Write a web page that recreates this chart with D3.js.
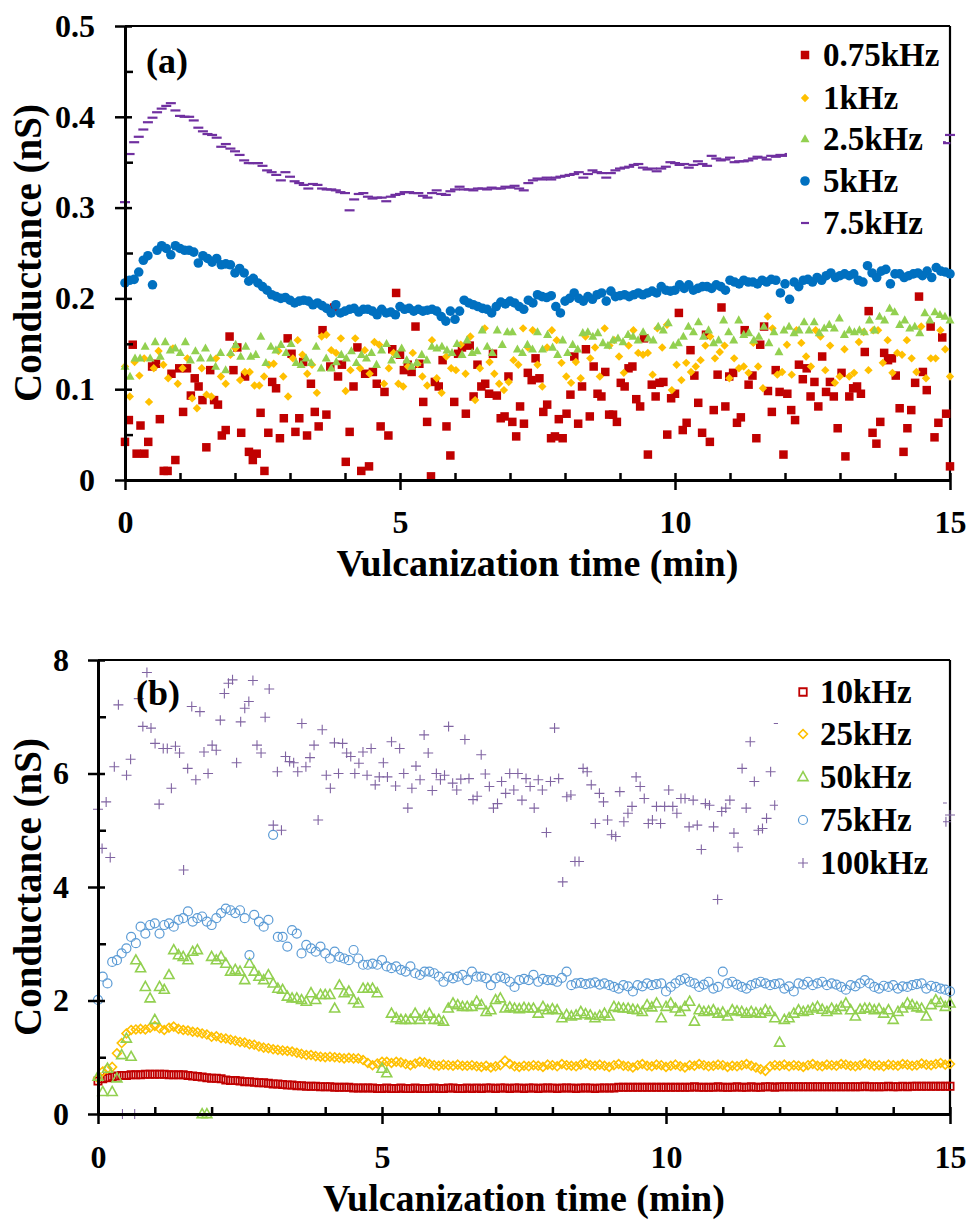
<!DOCTYPE html>
<html>
<head>
<meta charset="utf-8">
<script src="https://cdn.jsdelivr.net/npm/d3@7"></script>
<style>
  body { margin: 0; background: #fff; }
  svg text { font-family: "Liberation Serif", "Times New Roman", serif; font-weight: bold; fill: #000; }
</style>
</head>
<body>
<svg id="chart" width="971" height="1222"></svg>
<script>
// ---------------- Panel (a): low-frequency conductance (nS) ----------------
const seriesA = ["0.75kHz", "1kHz", "2.5kHz", "5kHz", "7.5kHz"];

const g075 = [
  .042,.066,.149,.029,.060,.029,.042,.125,.128,.067,
  .010,.010,.117,.022,.123,.075,.123,.093,.112,.103,
  .088,.036,.121,.088,.083,.049,.055,.158,.121,.146,
  .052,.114,.031,.022,.029,.074,.010,.052,.108,.101,
  .046,.068,.156,.139,.053,.068,.130,.049,.106,.075,
  .059,.165,.072,.125,.190,.114,.127,.020,.053,.103,
  .146,.010,.117,.015,.119,.106,.059,.097,.049,.144,
  .206,.138,.121,.127,.119,.169,.128,.086,.064,.004,
  .108,.103,.132,.059,.027,.086,.139,.146,.073,.148,
  .092,.127,.103,.106,.095,.139,.093,.068,
  .070,.114,.064,.048,.081,.062,.118,.110,.134,.112,
  .075,.083,.046,.048,.067,.046,.073,.094,.136,.062,
  .103,.144,.070,.125,.095,.092,.119,.072,.072,.064,
  .107,.103,.123,.125,.089,.081,.156,.028,.105,.092,
  .107,.108,.050,.090,.095,.184,.055,.063,.143,.115,
  .085,.052,.160,.042,.077,.116,.190,.081,.114,.118,
  .063,.069,.165,.105,.115,.046,.149,.169,.098,.075,
  .121,.097,.028,.095,.077,.066,.127,.111,.123,.092,
  .108,.081,.136,.097,.108,.092,.057,.118,.026,.092,
  .101,.103,.095,.141,.186,.052,.040,.064,.140,.132,
  .134,.115,.079,.031,.057,.077,.107,.202,.119,.099,
  .169,.047,.063,.157,.073,.015
];

const g1k = [
  .125,.092,.130,.115,.134,.086,.123,.142,.127,.112,
  .145,.106,.123,.134,.090,.079,.123,.094,.092,.134,
  .114,.106,.138,.145,.110,.119,.119,.104,.104,.114,
  .127,.128,.142,.114,.092,.134,.154,.138,.117,.127,
  .096,.158,.160,.143,.140,.156,.098,.121,.156,.123,
  .143,.117,.152,.149,.106,.123,.140,.106,.103,.125,
  .140,.128,.114,.104,.154,.112,.096,.136,.123,.121,
  .149,.117,.158,.088,.123,.167,.130,.117,.106,.099,
  .108,
  .132,.127,.167,.146,.165,.127,.103,.146,.165,.154,
  .129,.114,.107,.130,.112,.158,.134,.146,.114,.167,
  .148,.154,.136,.118,.148,.165,.140,.138,.140,.116,
  .167,.146,.171,.099,.127,.110,.129,.119,.125,.132,
  .148,.158,.134,.141,.148,.112,.134,.123,.125,.118,
  .151,.125,.101,.180,.167,.116,.119,.149,.116,.165,
  .151,.136,.125,.165,.158,.121,.148,.107,.114,.144,
  .114,.118,.152,.163,.121,.165,.165,.129,.154,.118,
  .140,.138,.154,.134,.119,.169,.112,.134,.134,.165,
  .144,.114
];

const g2k5 = [
  .125,.114,.134,.134,.147,.134,.152,.136,.152,.143,
  .145,.140,.152,.132,.142,.134,.145,.134,.125,.140,
  .121,.140,.149,.136,.147,.136,.138,.158,.129,.147,
  .143,.149,.140,.150,.129,.127,.134,.129,.147,.123,
  .134,.123,.130,.138,.134,.142,.129,.138,.134,.140,
  .127,.143,.150,.132,.138,.145,.132,.125,.129,.138,
  .132,.147,.145,.147,.143,.140,.150,.138,.154,.140,
  .142,.165,.147,.140,.165,.149,.163,
  .163,.144,.140,.149,.144,.163,.144,.160,.146,.138,
  .154,.140,.149,.144,.162,.163,.158,.162,.151,.148,
  .154,.156,.152,.160,.158,.154,.163,.156,.154,.169,
  .165,.173,.148,.151,.158,.169,.163,.174,.158,.165,
  .151,.154,.176,.163,.154,.176,.160,.162,.154,.158,
  .169,.151,.163,.141,.165,.169,.162,.165,.174,.165,
  .174,.162,.167,.171,.167,.178,.160,.165,.163,.165,
  .163,.176,.165,.180,.176,.189,.185,.171,.176,.167,
  .169,.162,.184,.176,.185,.182,.180,.176
];

const g5k = [
  .217,.220,.221,.229,.242,.247,.215,.253,.258,.255,
  .248,.258,.255,.253,.253,.251,.239,.247,.244,.240,
  .244,.237,.238,.237,.228,.233,.228,.219,.222,.217,
  .213,.209,.204,.202,.200,.201,.198,.195,.197,.198,
  .197,.193,.195,.192,.189,.184,.193,.184,.186,.188,
  .189,.185,.188,.188,.186,.182,.188,.184,.185,.182,
  .191,.188,.189,.186,.188,.186,.187,.188,.186,.180,
  .175,.186,.177,.186,.198,.195,.193,.191,.189,.188,
  .184,.191,.196,.194,.197,.195,.191,.188,.198,.195,
  .204,.202,.201,.203,.191,.184,.197,.200,.206,.200,
  .197,.202,.199,.204,.206,.197,.208,.202,.203,.204,
  .202,.204,.206,.204,.206,.208,.206,.213,.209,.208,
  .209,.215,.211,.215,.209,.211,.213,.213,.211,.215,
  .213,.209,.220,.218,.216,.220,.218,.218,.216,.220,
  .218,.221,.220,.206,.216,.199,.218,.213,.220,.221,
  .218,.223,.220,.225,.228,.223,.225,.227,.225,.227,
  .220,.218,.236,.228,.223,.230,.232,.216,.227,.227,
  .223,.225,.227,.228,.225,.230,.223,.234,.230,.229,.227
];

const g7k5 = [
  .306,.359,.372,.378,.386,.394,.399,.405,.409,.412,
  .415,.407,.401,.400,.400,.396,.388,.384,.381,.380,
  .377,.367,.370,.365,.362,.358,.352,.349,.349,.349,
  .346,.341,.339,.336,.330,.339,.334,.329,.327,.325,
  .321,.326,.325,.321,.320,.320,.319,.317,.316,.297,
  .309,.315,.316,.312,.310,.311,.311,.307,.312,.314,
  .315,.317,.317,.316,.316,.313,.311,.316,.319,.315,
  .314,.318,.320,.323,.320,.320,.319,.321,.321,.320,
  .322,.321,.321,.323,.322,.324,.321,.319,.327,.330,
  .332,.331,.333,.331,.333,.334,.335,.336,.337,.339,
  .333,.337,.341,.339,.338,.333,.338,.341,.343,.344,
  .345,.347,.348,.344,.342,.343,.340,.343,.345,.350,
  .349,.347,.348,.344,.347,.351,.348,.346,.357,.354,
  .352,.353,.355,.350,.351,.351,.352,.354,.356,.355,
  .353,.357,.356,.358,.357,.359,.356,.360,.358,.361,
  .359,.362,.360,.363,.358,.364,.362,.365,.361,.366,
  .364,.367,.363,.368,.366,.365,.369,.367,.370,.366,
  .371,.369,.372,.368,.373,.371,.370,.374,.372,.371,.380
];

// ---------------- Panel (b): high-frequency conductance (nS) ----------------
const seriesB = ["10kHz", "25kHz", "50kHz", "75kHz", "100kHz"];

const g10k = [
  .58,.62,.64,.66,.67,.68,.68,.69,.69,.69,.70,.70,.70,.70,.70,.69,.69,.69,.69,.68,
  .67,.66,.65,.64,.63,.63,.62,.60,.59,.59,.58,.57,.57,.56,.55,.55,.54,.53,.53,.52,
  .51,.51,.50,.50,.49,.49,.49,.48,.48,.48,.47,.47,.47,.47,.46,.46,.46,.46,.46,.45,
  .45,.46,.45,.45,.46,.45,.45,.46,.45,.45,.45,.46,.45,.45,.46,.46,.45,.45,.46,.45,
  .46,.45,.46,.46,.45,.46,.46,.45,.46,.46,.45,.46,.46,.45,.46,.46,.46,.45,.46,.46,
  .46,.45,.46,.46,.46,.45,.46,.46,.46,.46,.47,.47,.47,.47,.47,.47,.47,.47,.47,.47,
  .47,.47,.47,.47,.47,.47,.48,.47,.47,.47,.47,.48,.47,.47,.47,.48,.47,.47,.48,.47,
  .47,.48,.48,.47,.48,.48,.48,.48,.48,.48,.48,.48,.48,.48,.48,.48,.48,.48,.48,.48,
  .48,.48,.49,.48,.48,.48,.48,.49,.48,.48,.49,.48,.49,.49,.49,.49,.49,.49,.49,.49,.49
];

const g25k = [
  .63,.75,.80,.83,1.07,1.25,1.42,1.48,1.49,1.50,
  1.49,1.52,1.55,1.51,1.48,1.52,1.54,1.50,1.48,1.47,
  1.45,1.44,1.42,1.40,1.36,1.37,1.34,1.33,1.31,1.29,
  1.27,1.26,1.23,1.22,1.19,1.17,1.16,1.14,1.13,1.12,
  1.11,1.10,1.08,1.06,1.04,1.04,1.02,1.01,1.00,1.01,
  1.00,.99,.98,.99,.98,.98,.95,.90,.86,.89,
  .92,.92,.90,.92,.91,.88,.86,.89,.92,.91,
  .88,.86,.85,.87,.86,.85,.87,.85,.85,.86,
  .84,.83,.85,.82,.84,.86,.94,.88,.84,.83,
  .85,.84,.86,.85,.83,.87,.86,.84,.88,.86,
  .85,.84,.87,.89,.86,.85,.87,.85,.83,.86,
  .88,.85,.84,.82,.86,.88,.85,.84,.87,.86,
  .83,.85,.87,.84,.82,.86,.85,.88,.86,.84,
  .85,.87,.86,.83,.85,.84,.86,.88,.85,.82,
  .79,.76,.84,.86,.85,.87,.84,.86,.85,.83,
  .86,.88,.85,.84,.87,.86,.85,.88,.87,.85,
  .84,.86,.89,.87,.85,.86,.84,.87,.86,.85,
  .88,.87,.85,.86,.89,.87,.86,.88,.90,.87,.88
];

const g50k = [
  .66,.39,.80,.39,.63,1.04,1.33,1.01,2.71,2.57,
  2.24,2.04,1.66,2.24,2.19,2.45,2.89,2.80,2.77,2.71,
  2.86,2.89,0,0,2.77,2.71,2.77,2.65,2.51,2.54,
  2.51,2.36,2.65,2.51,2.42,2.36,2.45,2.30,2.21,2.19,
  2.07,2.04,2.04,2.01,1.98,2.13,2.01,2.10,2.10,2.10,
  1.86,2.27,2.13,2.16,2.01,1.95,2.21,2.21,2.21,2.13,
  .80,.72,1.77,1.69,1.66,1.66,1.66,1.77,1.66,1.72,
  1.77,1.66,1.66,1.63,1.86,1.95,1.92,1.89,1.89,1.89,
  1.98,1.92,1.80,1.83,2.01,2.04,1.86,1.88,1.86,1.85,
  1.87,1.86,1.86,1.77,1.89,1.83,1.85,1.83,1.69,1.75,
  1.72,1.74,1.80,1.76,1.74,1.69,1.73,1.77,1.72,1.89,
  1.87,1.86,1.86,1.84,1.83,1.80,1.92,1.88,1.95,1.69,
  1.89,1.95,1.86,1.80,1.89,1.98,1.63,1.83,1.80,1.81,
  1.83,1.77,1.79,1.72,1.83,1.81,1.80,1.77,1.80,1.78,
  1.77,1.83,1.80,1.69,1.26,1.66,1.69,1.77,1.83,1.80,
  1.82,1.86,1.89,1.84,1.80,1.86,1.83,1.89,1.95,1.83,
  1.72,1.84,1.86,1.86,1.83,1.85,1.77,1.83,1.66,1.80,
  1.86,1.95,1.92,1.88,1.86,1.72,1.92,2.01,1.96,1.89,1.95
];

const g75k = [
  2.01,2.42,2.30,2.68,2.71,2.83,2.92,3.12,3.01,3.30,
  3.18,3.33,3.36,3.18,3.33,3.36,3.30,3.42,3.45,3.57,
  3.39,3.45,3.48,3.39,3.33,3.45,3.54,3.62,3.59,3.54,
  3.59,3.45,2.80,3.51,3.39,3.30,3.42,4.92,3.12,3.12,
  2.95,3.24,3.18,2.83,2.98,2.92,2.86,2.95,2.83,2.74,
  2.86,2.77,2.74,2.71,2.89,2.74,2.63,2.63,2.65,2.63,
  2.71,2.60,2.57,2.60,2.54,2.51,2.60,2.48,2.45,2.51,
  2.51,2.48,2.42,2.33,2.42,2.39,2.42,2.45,2.36,2.51,
  2.42,2.42,2.39,2.27,2.39,2.42,2.39,2.33,2.24,2.36,
  2.38,2.36,2.45,2.33,2.38,2.36,2.36,2.33,2.40,2.51,
  2.27,2.30,2.31,2.29,2.30,2.32,2.28,2.30,2.27,2.24,
  2.21,2.27,2.25,2.16,2.27,2.25,2.30,2.27,2.29,2.30,
  2.16,2.24,2.30,2.36,2.39,2.33,2.30,2.24,2.28,2.33,
  2.21,2.24,2.51,2.30,2.33,2.28,2.24,2.21,2.27,2.30,
  2.33,2.30,2.27,2.29,2.30,2.21,2.25,2.16,2.30,2.28,
  2.33,2.27,2.30,2.33,2.27,2.30,2.28,2.24,2.19,2.27,
  2.25,2.30,2.36,2.30,2.24,2.21,2.26,2.24,2.27,2.21,
  2.25,2.24,2.27,2.29,2.30,2.21,2.26,2.24,2.21,2.19,2.16
];

const g100k = [
  5.37,4.68,5.50,4.52,6.12,7.21,0,5.97,6.25,0,
  7.32,6.83,7.78,6.80,6.53,5.46,6.44,6.44,5.74,6.48,
  6.36,4.30,6.09,7.18,5.89,7.09,6.38,6.00,6.50,6.41,
  6.94,7.41,7.59,7.65,6.19,6.91,7.15,7.27,7.64,6.50,
  6.36,6.99,7.49,5.09,6.03,5.00,6.30,6.21,6.19,6.03,
  6.88,6.12,6.28,6.50,5.18,6.77,5.97,5.74,6.54,6.00,
  6.53,6.36,6.30,6.00,6.18,6.38,5.97,6.44,5.80,5.94,
  6.19,5.94,6.56,5.78,6.44,6.00,5.39,5.74,6.13,5.89,
  6.68,6.36,5.70,6.00,5.89,5.97,6.83,5.83,5.71,5.90,
  6.60,5.91,5.54,5.60,6.33,5.99,5.77,5.39,
  5.47,5.86,5.65,6.00,5.71,6.00,5.53,5.91,5.77,5.39,
  5.89,5.71,4.96,5.86,6.80,5.91,4.09,5.59,5.62,4.45,
  4.45,6.09,6.03,5.80,5.12,5.65,5.50,5.18,4.92,4.89,
  5.68,5.15,5.30,5.42,5.94,5.77,5.56,5.12,5.18,5.42,
  5.12,5.42,5.71,5.42,5.30,5.56,5.56,5.06,5.53,5.09,
  4.66,5.47,5.44,5.06,3.78,5.33,5.39,5.53,4.95,4.70,
  6.09,5.39,6.56,5.86,5.00,5.03,5.21,6.03,5.44,6.88,
  5.52,5.18,6.05,5.40,4.98,5.71,5.35,5.88,5.12,5.60,
  5.27,6.20,5.45,5.03,5.79,5.31,5.66,4.87,5.50,5.94,
  5.22,5.58,5.09,5.83,5.36,5.47,6.12,5.15,5.69,5.28,
  5.54,4.92,5.75,5.41,5.20,5.63,5.05,5.86,5.33,5.48,
  5.15,5.27
];

const xTicks = [0, 5, 10, 15];
const xMinor = [1, 2, 3, 4, 6, 7, 8, 9, 11, 12, 13, 14];
const yTicksA = [0, 0.1, 0.2, 0.3, 0.4, 0.5];
const yMinorA = [0.05, 0.15, 0.25, 0.35, 0.45];
const yTicksB = [0, 2, 4, 6, 8];
const yMinorB = [1, 3, 5, 7];

// ---------------- marker shapes ----------------
const shape = {
  square: s => `M${-s/2},${-s/2}h${s}v${s}h${-s}Z`,
  diamond: r => `M0,${-r}L${r},0L0,${r}L${-r},0Z`,
  triangle: w => { const h = w * 0.9; return `M0,${-h*0.6}L${w/2},${h*0.4}L${-w/2},${h*0.4}Z`; },
  circle: r => `M${r},0A${r},${r} 0 1,1 ${-r},0A${r},${r} 0 1,1 ${r},0Z`,
  dash: w => `M${-w/2},-1.1h${w}v2.2h${-w}Z`,
  plus: r => `M${-r},0H${r}M0,${-r}V${r}`
};

const svg = d3.select("#chart");

function drawPanel(p) {
  const x = d3.scaleLinear().domain([0, 15]).range([p.left, 950]);
  const y = d3.scaleLinear().domain([0, p.yMax]).range([p.bottom, p.top]);

  // frame: top and right edges
  svg.append("line").attr("x1", p.left).attr("x2", 950).attr("y1", p.top).attr("y2", p.top)
    .attr("stroke", "#000").attr("stroke-width", 2.2);
  svg.append("line").attr("x1", 950).attr("x2", 950).attr("y1", p.top).attr("y2", p.bottom)
    .attr("stroke", "#000").attr("stroke-width", 2.2);

  // data points
  p.series.forEach(s => {
    const n = s.values.length;
    const pts = s.values.map((v, i) => ({ t: 15 * i / (n - 1), v }));
    svg.append("g").selectAll("path").data(pts).join("path")
      .attr("transform", d => `translate(${x(d.t)},${y(d.v)})`)
      .attr("d", s.path)
      .attr("fill", s.fill)
      .attr("stroke", s.stroke)
      .attr("stroke-width", s.sw || 0);
  });

  // left axis: labelled outer ticks, inner halves, minor ticks
  const ay = svg.append("g").attr("transform", `translate(${p.left},0)`)
    .call(d3.axisLeft(y).tickValues(p.yTicks).tickFormat(p.yFmt)
      .tickSize(10).tickSizeOuter(0).tickPadding(p.yPad));
  svg.append("g").attr("transform", `translate(${p.left},0)`)
    .call(d3.axisRight(y).tickValues(p.yTicks).tickSize(7).tickSizeOuter(0).tickFormat(""))
    .call(g => g.select(".domain").remove());
  svg.append("g").attr("transform", `translate(${p.left},0)`)
    .call(d3.axisRight(y).tickValues(p.yMinor).tickSize(8).tickSizeOuter(0).tickFormat(""))
    .call(g => g.select(".domain").remove());

  // bottom axis
  const ax = svg.append("g").attr("transform", `translate(0,${p.bottom})`)
    .call(d3.axisBottom(x).tickValues(xTicks).tickFormat(d3.format("d"))
      .tickSize(10).tickSizeOuter(0).tickPadding(p.xPad));
  svg.append("g").attr("transform", `translate(0,${p.bottom})`)
    .call(d3.axisTop(x).tickValues(xTicks).tickSize(7).tickSizeOuter(0).tickFormat(""))
    .call(g => g.select(".domain").remove());
  svg.append("g").attr("transform", `translate(0,${p.bottom})`)
    .call(d3.axisTop(x).tickValues(xMinor).tickSize(7).tickSizeOuter(0).tickFormat(""))
    .call(g => g.select(".domain").remove());

  svg.selectAll(".domain").attr("stroke", "#000").attr("stroke-width", 3);
  svg.selectAll(".tick line").attr("stroke", "#000").attr("stroke-width", 2.5);
  [ax, ay].forEach(a => a.selectAll("text").style("font-size", "32px")
    .style("font-family", "'Liberation Serif', 'Times New Roman', serif").style("font-weight", "bold"));

  // axis titles
  svg.append("text").attr("x", (p.left + 950) / 2).attr("y", p.xTitleY)
    .attr("text-anchor", "middle").style("font-size", "38px").text("Vulcanization time (min)");
  svg.append("text")
    .attr("transform", `translate(41,${(p.top + p.bottom) / 2}) rotate(-90)`)
    .attr("text-anchor", "middle").style("font-size", "39px").text("Conductance (nS)");

  // panel tag
  svg.append("text").attr("x", p.tagX).attr("y", p.tagY).style("font-size", "36px").text(p.tag);

  // legend on a white box
  const lg = svg.append("g");
  lg.append("rect").attr("x", p.leg.x0).attr("y", p.leg.y0)
    .attr("width", p.leg.x1 - p.leg.x0).attr("height", p.leg.y1 - p.leg.y0).attr("fill", "#fff");
  p.series.forEach((s, i) => {
    const cy = p.leg.rows[i];
    lg.append("path").attr("transform", `translate(${p.leg.mx},${cy})`)
      .attr("d", s.legPath || s.path).attr("fill", s.fill).attr("stroke", s.stroke).attr("stroke-width", s.sw || 0);
    lg.append("text").attr("x", p.leg.tx).attr("y", cy + 11).style("font-size", "33px").text(s.name);
  });
}

drawPanel({
  left: 125, top: 26, bottom: 480, yMax: 0.5,
  yTicks: yTicksA, yMinor: yMinorA, yFmt: d => d === 0 ? "0" : d.toFixed(1), yPad: 20, xPad: 20,
  xTitleY: 576, tag: "(a)", tagX: 146, tagY: 73,
  leg: { x0: 787, x1: 943, y0: 32, y1: 244, mx: 805, tx: 823, rows: [55, 98, 139, 181, 223] },
  series: [
    { name: seriesA[0], values: g075, path: shape.square(8.5), fill: "#C00000", stroke: "none" },
    { name: seriesA[1], values: g1k, path: shape.diamond(4.2), fill: "#FFC000", stroke: "none" },
    { name: seriesA[2], values: g2k5, path: shape.triangle(9), fill: "#92D050", stroke: "none" },
    { name: seriesA[3], values: g5k, path: shape.circle(4.8), fill: "#0070C0", stroke: "none" },
    { name: seriesA[4], values: g7k5, path: shape.dash(10), legPath: shape.dash(8), fill: "#7030A0", stroke: "none" }
  ]
});

drawPanel({
  left: 98, top: 660, bottom: 1114, yMax: 8,
  yTicks: yTicksB, yMinor: yMinorB, yFmt: d3.format("d"), yPad: 19, xPad: 21,
  xTitleY: 1211, tag: "(b)", tagX: 136, tagY: 705,
  leg: { x0: 778, x1: 943, y0: 668, y1: 885, mx: 803, tx: 820, rows: [692, 734, 777, 820, 863] },
  series: [
    { name: seriesB[0], values: g10k, path: shape.square(7.2), legPath: shape.square(7.5), fill: "none", stroke: "#C00000", sw: 1.8 },
    { name: seriesB[1], values: g25k, path: shape.diamond(4.4), fill: "none", stroke: "#FFC000", sw: 1.6 },
    { name: seriesB[2], values: g50k, path: shape.triangle(10), fill: "none", stroke: "#92D050", sw: 1.6 },
    { name: seriesB[3], values: g75k, path: shape.circle(4.5), fill: "none", stroke: "#5B9BD5", sw: 1.2 },
    { name: seriesB[4], values: g100k, path: shape.plus(5), fill: "none", stroke: "#8064A2", sw: 1.1 }
  ]
});
</script>
</body>
</html>
